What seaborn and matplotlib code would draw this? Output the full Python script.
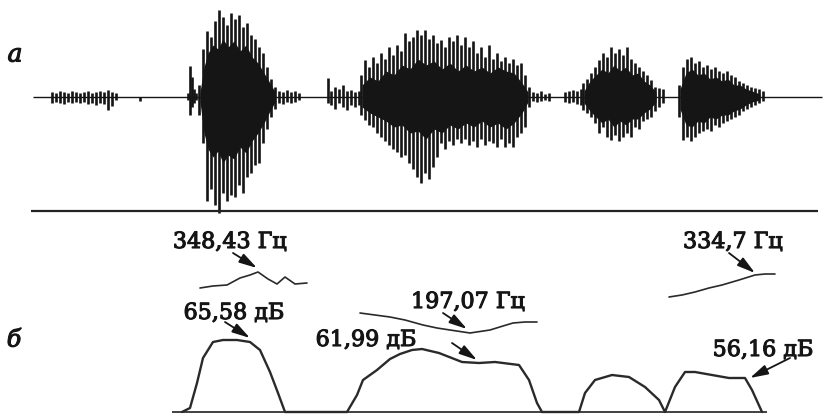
import numpy as np
import pandas as pd
import matplotlib
matplotlib.use('Agg')
import matplotlib.pyplot as plt
import matplotlib.patheffects as pe
import seaborn as sns

# ---------------- (a) waveform: spike time, positive peak, negative peak ----------------
noise1_t = [52, 56, 60, 64, 68, 72, 76, 80, 84, 88, 92, 96, 100, 104, 108, 112, 116, 140]
noise1_hi = [5, 4, 6, 5, 4, 6, 5, 4, 5, 6, 4, 5, 6, 5, 7, 5, 4, 0]
noise1_lo = [6, 5, 6, 7, 5, 6, 5, 6, 5, 7, 6, 8, 6, 7, 13, 9, 3, 4]

burst_a_t = [188, 190, 192, 194, 196]
burst_a_hi = [4, 31, 20, 8, 4]
burst_a_lo = [3, 18, 10, 6, 3]

burst_b_t = [199, 203, 207, 211, 215, 219, 223, 227, 231, 235, 239, 243, 247, 251, 255,
             259, 263, 267, 271, 275, 279, 283, 287, 291, 295, 299]
burst_b_hi = [12, 48, 66, 60, 76, 87, 80, 72, 84, 78, 82, 70, 74, 62, 58,
              50, 44, 30, 18, 10, 6, 5, 7, 5, 6, 4]
burst_b_lo = [18, 46, 104, 92, 108, 116, 96, 104, 98, 100, 88, 96, 80, 76, 68,
              66, 46, 32, 20, 12, 6, 7, 5, 6, 5, 3]

burst_c_t = [328, 331, 335, 339, 343, 347, 351, 355, 359,
             361, 365, 369, 373, 377, 381, 385, 389, 393, 397, 401, 405, 409, 413, 417,
             421, 425, 429, 433, 437, 441, 445, 449, 453, 457, 461, 465, 469, 473, 477,
             481, 485, 489, 493, 497, 501, 505, 509, 513, 517, 521, 525, 529,
             533, 537, 541, 545, 549]
burst_c_hi = [19, 6, 10, 8, 12, 6, 7, 5, 6,
              22, 37, 30, 40, 34, 44, 38, 50, 42, 52, 46, 64, 56, 60, 67,
              62, 67, 58, 62, 54, 57, 50, 60, 56, 62, 52, 60, 50, 56, 44,
              50, 40, 52, 38, 44, 36, 40, 34, 38, 32, 34, 22, 10,
              5, 4, 6, 3, 4]
burst_c_lo = [6, 8, 12, 6, 10, 13, 8, 10, 8,
              18, 23, 28, 30, 36, 40, 44, 48, 52, 55, 60, 58, 66, 72, 80,
              86, 76, 82, 70, 60, 46, 52, 44, 48, 42, 46, 42, 48, 44, 50,
              42, 48, 44, 46, 50, 42, 50, 46, 50, 40, 36, 30, 10,
              4, 5, 4, 3, 4]

burst_d_t = [565, 569, 573, 577, 581, 583, 587, 591, 595, 599, 603, 607, 611, 615, 619,
             623, 627, 631, 635, 639, 643, 647, 651, 655, 659, 663]
burst_d_hi = [5, 6, 7, 6, 8, 14, 18, 24, 30, 37, 44, 40, 50, 44, 48,
              42, 50, 38, 34, 30, 26, 22, 17, 10, 9, 8]
burst_d_lo = [5, 6, 5, 7, 8, 13, 16, 20, 26, 36, 30, 40, 43, 38, 44,
              40, 36, 40, 30, 32, 24, 22, 20, 14, 10, 6]

burst_e_t = [679, 683, 687, 691, 695, 699, 703, 707, 711, 715, 719, 723, 727, 731, 735,
             739, 743, 747, 751, 755, 759, 763]
burst_e_hi = [12, 30, 38, 40, 34, 36, 30, 32, 28, 30, 26, 24, 26, 22, 20,
              16, 14, 12, 10, 9, 8, 6]
burst_e_lo = [20, 43, 40, 44, 40, 36, 34, 32, 34, 28, 30, 26, 24, 22, 20,
              18, 14, 12, 10, 8, 6, 4]

# dense dark core of each syllable (ragged outline)
core_t = [[200, 204, 208, 213, 218, 223, 228, 234, 240, 246, 252, 258, 264, 270, 275],
          [362, 370, 378, 386, 394, 402, 410, 418, 426, 434, 442, 450, 458, 466, 474,
           482, 490, 498, 506, 514, 522, 528],
          [584, 590, 596, 602, 608, 614, 620, 626, 632, 638, 644, 650, 656],
          [680, 686, 692, 698, 704, 710, 716, 722, 728, 734, 740, 746, 752, 760]]
core_hi = [[5, 30, 44, 52, 48, 58, 50, 56, 46, 52, 40, 34, 24, 14, 5],
           [12, 20, 16, 26, 22, 32, 28, 38, 32, 36, 28, 34, 26, 32, 26,
            30, 24, 30, 26, 24, 14, 5],
           [6, 16, 22, 28, 24, 32, 26, 30, 22, 24, 16, 12, 5],
           [8, 24, 28, 22, 24, 18, 20, 16, 18, 12, 12, 8, 6, 3]]
core_lo = [[5, 36, 52, 60, 54, 66, 58, 62, 50, 56, 44, 36, 26, 14, 5],
           [10, 16, 20, 24, 30, 28, 36, 34, 42, 32, 36, 28, 32, 26, 30,
            24, 30, 26, 32, 26, 16, 5],
           [6, 14, 20, 26, 22, 30, 24, 28, 22, 22, 16, 12, 5],
           [12, 28, 30, 24, 26, 20, 22, 18, 18, 14, 12, 8, 5, 3]]

# ---------------- (b) intonogram ----------------
intensity_t = [182, 190, 197, 203, 213, 223, 237, 250, 260, 270, 278, 285, 347, 357, 363,
               377, 390, 400, 412, 422, 439, 462, 479, 495, 519, 529, 537, 542, 579, 585,
               595, 612, 629, 645, 659, 665, 675, 685, 695, 712, 729, 745, 752, 762]
intensity_db = [0, 4, 29, 54, 70, 72, 72, 70, 62, 40, 19, 0, 0, 17, 32,
                42, 53, 58, 62, 63, 59, 50, 49, 50, 47, 32, 9, 0, 0, 19,
                32, 37, 35, 25, 12, 0, 25, 40, 40, 37, 34, 34, 22, 0]

pitch1_t = [200, 213, 227, 240, 250, 258, 268, 277, 285, 295, 307]
pitch1_hz = [124, 126, 127, 134, 137, 140, 133, 128, 135, 128, 129]
pitch2_t = [360, 375, 390, 405, 423, 437, 450, 470, 490, 503, 513, 525, 537]
pitch2_hz = [99, 97, 95, 92, 87, 84, 82, 79, 82, 86, 89, 90, 90]
pitch3_t = [669, 682, 695, 709, 722, 739, 755, 765, 775]
pitch3_hz = [115, 117, 120, 124, 127, 132, 137, 138, 138]

labels = ['348,43 Гц', '197,07 Гц', '334,7 Гц', '65,58 дБ', '61,99 дБ', '56,16 дБ']
label_xy = [(230, 170), (468, 110), (733, 170), (234, 99), (366, 72), (763, 62)]
arrow_from = [(233, 159), (443, 99), (729, 159), (225, 90), (452, 69), (790, 54)]
arrow_to = [(257, 144), (467, 83), (755, 139), (250, 74), (477, 52), (750, 34)]

sns.set_theme(style='white')
plt.rcParams['font.family'] = ['DejaVu Serif', 'DejaVu Sans']

fig = plt.figure(figsize=(8.23, 4.15), dpi=100)
ax_a = fig.add_axes([0, 1 - 215 / 415, 1, 215 / 415])
ax_b = fig.add_axes([0, 0, 1, 200 / 415])
for ax in (ax_a, ax_b):
    ax.set_axis_off()
    ax.set_xlim(0, 823)
ax_a.set_ylim(-118, 97)
ax_b.set_ylim(-3, 197)

ink = '#151515'
bold = [pe.withStroke(linewidth=0.8, foreground=ink)]

# waveform
ax_a.hlines(0, 33, 822, color=ink, lw=1.0)
for t, hi, lo in [(noise1_t, noise1_hi, noise1_lo), (burst_a_t, burst_a_hi, burst_a_lo),
                  (burst_b_t, burst_b_hi, burst_b_lo), (burst_c_t, burst_c_hi, burst_c_lo),
                  (burst_d_t, burst_d_hi, burst_d_lo), (burst_e_t, burst_e_hi, burst_e_lo)]:
    ax_a.vlines(t, -np.array(lo), np.array(hi), color=ink, lw=1.9)
for t, hi, lo in zip(core_t, core_hi, core_lo):
    ax_a.fill_between(t, -np.array(lo), np.array(hi), color=ink, lw=0)
ax_a.hlines(-114, 31, 818, color='#222222', lw=1.6)
ax_a.text(15, 42, 'a', fontsize=18, style='italic', ha='center', va='center',
          color=ink, path_effects=bold)

# intonogram
ax_b.hlines(0, 172, 767, color='#333333', lw=1.3)
df_int = pd.DataFrame({'t': intensity_t, 'db': intensity_db})
sns.lineplot(data=df_int, x='t', y='db', ax=ax_b, color='#2a2a2a', lw=1.7,
             sort=False, estimator=None)
for t, hz in [(pitch1_t, pitch1_hz), (pitch2_t, pitch2_hz), (pitch3_t, pitch3_hz)]:
    sns.lineplot(x=t, y=hz, ax=ax_b, color='#2a2a2a', lw=1.2, sort=False, estimator=None)

for txt, xy, p0, p1 in zip(labels, label_xy, arrow_from, arrow_to):
    ax_b.text(xy[0], xy[1], txt, fontsize=16, ha='center', va='center', color=ink,
              path_effects=bold)
    ax_b.annotate('', xy=p1, xytext=p0,
                  arrowprops=dict(arrowstyle='-|>,head_length=0.9,head_width=0.25',
                                  color=ink, lw=1.3, shrinkA=0, shrinkB=0))
ax_b.text(14, 72, 'б', fontsize=17, style='italic', ha='center', va='center',
          color=ink, path_effects=bold)

fig.savefig('out.png', dpi=100)
